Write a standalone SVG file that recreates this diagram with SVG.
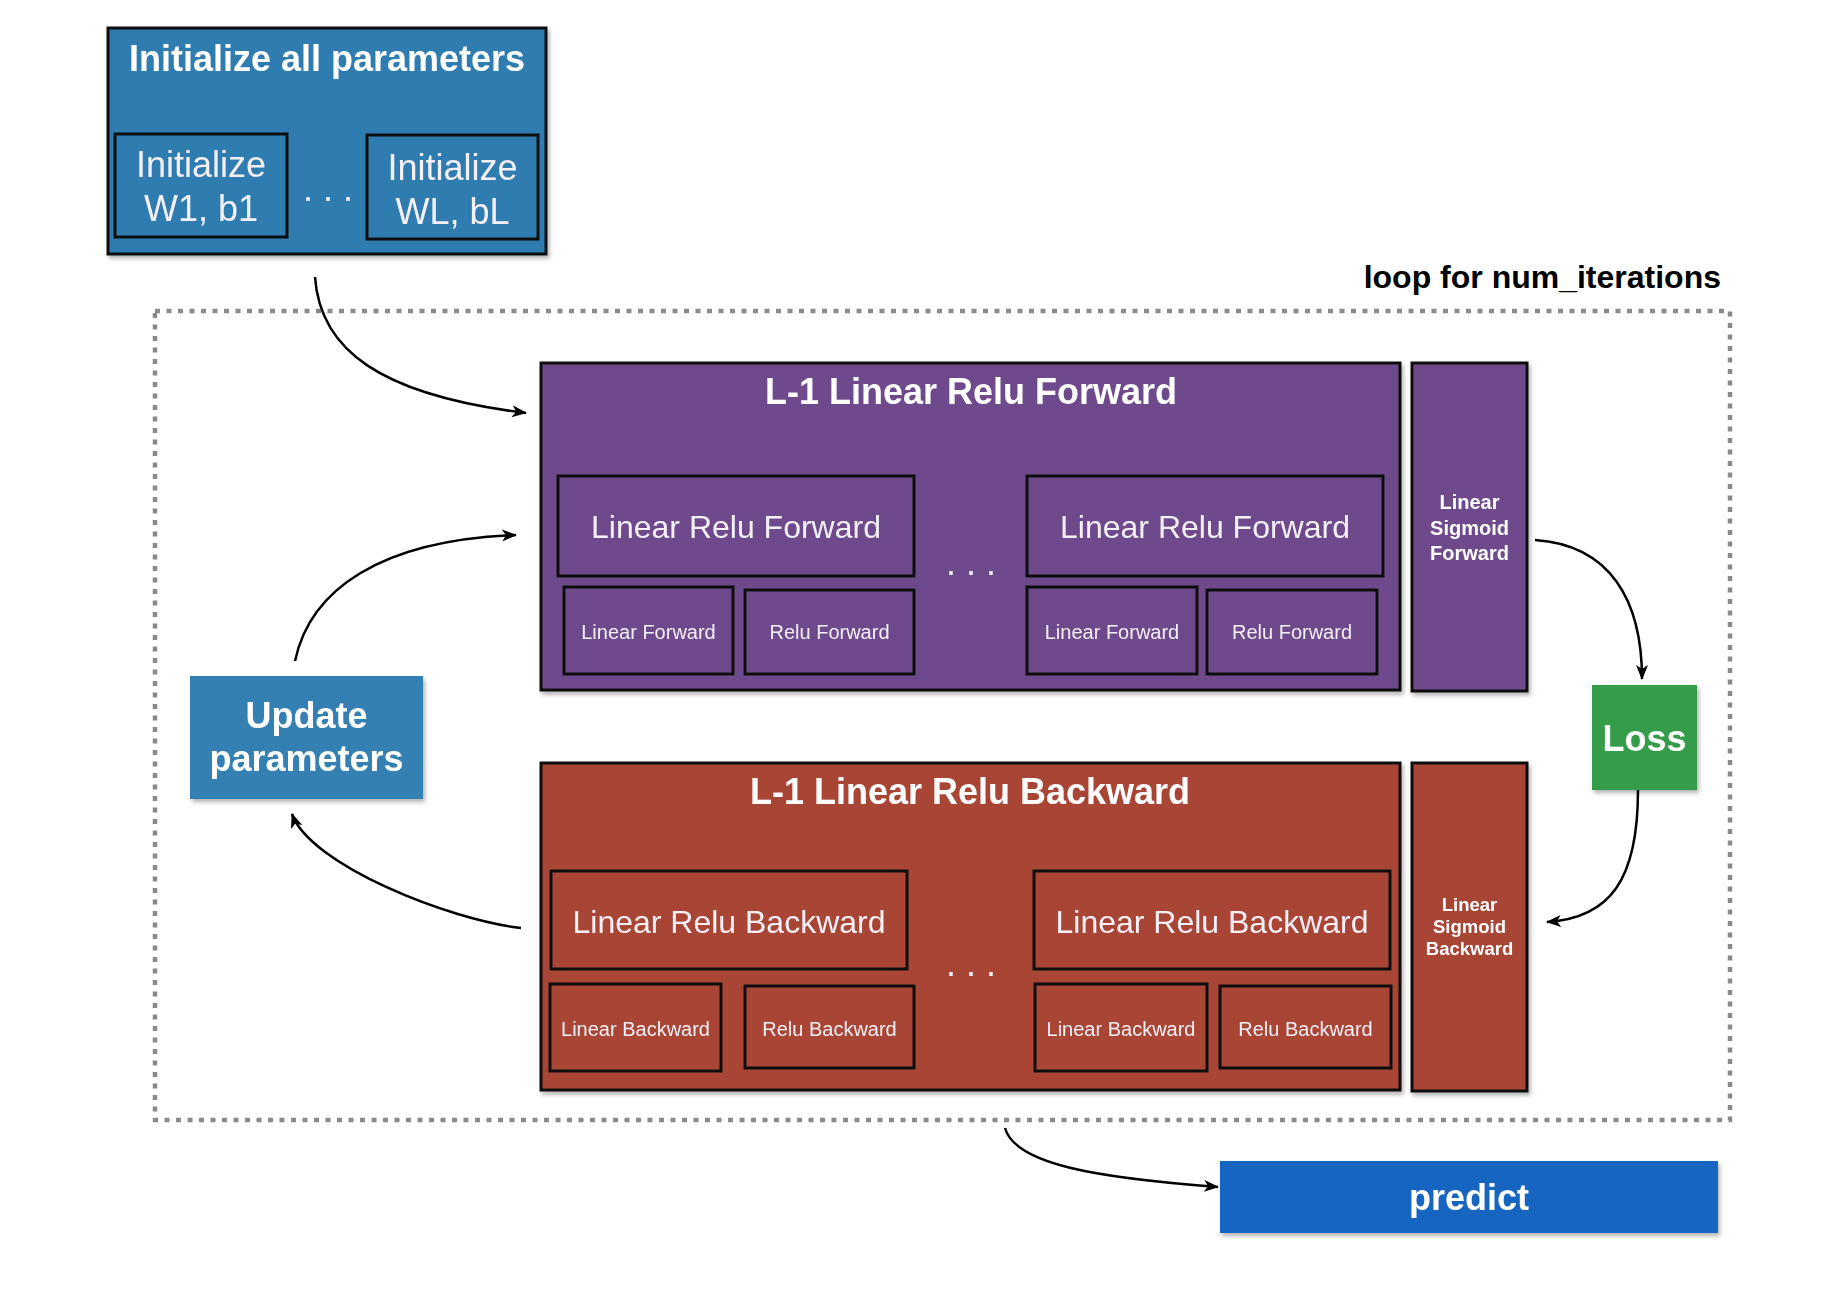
<svg xmlns="http://www.w3.org/2000/svg" width="1840" height="1298" viewBox="0 0 1840 1298">
<style>
.bx{stroke:#111;stroke-width:3}
.blue{fill:#2f7cb0}
.ublue{fill:#3480b2}
.purple{fill:#6e4a8c}
.red{fill:#a94436}
.green{fill:#369c48}
.pred{fill:#1565c0}
.t{font-family:"Liberation Sans",Arial,sans-serif;fill:#fff;text-anchor:middle}
.b{font-weight:bold}
.lt{fill:#f4f0f6}
.con{fill:none;stroke:#000;stroke-width:2.5}
</style>
<defs>
<filter id="sh" x="-5%" y="-5%" width="115%" height="115%">
<feDropShadow dx="2" dy="3" stdDeviation="2" flood-color="#000" flood-opacity="0.3"/>
</filter>
<marker id="ah" markerUnits="userSpaceOnUse" markerWidth="16" markerHeight="12" refX="14" refY="6" orient="auto">
<path d="M0,0 L15,6 L0,12 L4,6 z" fill="#000"/>
</marker>
</defs>
<rect width="1840" height="1298" fill="#fff"/>

<g id="loop">
<rect x="155" y="311" width="1575" height="809" fill="none" stroke="#8a8a8a" stroke-width="4.5" stroke-dasharray="5 6.5"/>
<text class="t b" x="1721" y="288" font-size="32" style="fill:#000;text-anchor:end">loop for num_iterations</text>
</g>

<g id="init" filter="url(#sh)">
<rect class="bx blue" x="108" y="28" width="438" height="226"/>
<text class="t b" x="327" y="71" font-size="36">Initialize all parameters</text>
<rect class="bx blue" x="115" y="134" width="172" height="103"/>
<text class="t lt" x="201" y="177" font-size="36">Initialize</text>
<text class="t lt" x="201" y="221" font-size="36">W1, b1</text>
<text class="t lt" x="328" y="201" font-size="36">. . .</text>
<rect class="bx blue" x="367" y="135" width="171" height="104"/>
<text class="t lt" x="452.5" y="180" font-size="36">Initialize</text>
<text class="t lt" x="452.5" y="224" font-size="36">WL, bL</text>
</g>

<g id="update" filter="url(#sh)">
<rect class="ublue" x="190" y="676" width="233" height="123"/>
<text class="t b" x="306.5" y="728" font-size="36">Update</text>
<text class="t b" x="306.5" y="771" font-size="36">parameters</text>
</g>

<g id="forward" filter="url(#sh)">
<rect class="bx purple" x="541" y="363" width="859" height="327"/>
<text class="t b" x="971" y="404" font-size="36">L-1 Linear Relu Forward</text>
<rect class="bx purple" x="558" y="476" width="356" height="100"/>
<text class="t lt" x="736" y="538" font-size="32">Linear Relu Forward</text>
<rect class="bx purple" x="564" y="587" width="169" height="87"/>
<text class="t lt" x="648.5" y="639" font-size="20">Linear Forward</text>
<rect class="bx purple" x="745" y="590" width="169" height="84"/>
<text class="t lt" x="829.5" y="639" font-size="20">Relu Forward</text>
<text class="t lt" x="971" y="575" font-size="36">. . .</text>
<rect class="bx purple" x="1027" y="476" width="356" height="100"/>
<text class="t lt" x="1205" y="538" font-size="32">Linear Relu Forward</text>
<rect class="bx purple" x="1027" y="587" width="170" height="87"/>
<text class="t lt" x="1112" y="639" font-size="20">Linear Forward</text>
<rect class="bx purple" x="1207" y="590" width="170" height="84"/>
<text class="t lt" x="1292" y="639" font-size="20">Relu Forward</text>
</g>

<g id="sigfwd" filter="url(#sh)">
<rect class="bx purple" x="1412" y="363" width="115" height="328"/>
<text class="t b" x="1469.5" y="509" font-size="20">Linear</text>
<text class="t b" x="1469.5" y="535" font-size="20">Sigmoid</text>
<text class="t b" x="1469.5" y="560" font-size="20">Forward</text>
</g>

<g id="loss" filter="url(#sh)">
<rect class="green" x="1592" y="685" width="105" height="105"/>
<text class="t b" x="1644.5" y="751" font-size="36">Loss</text>
</g>

<g id="backward" filter="url(#sh)">
<rect class="bx red" x="541" y="763" width="859" height="327"/>
<text class="t b" x="970" y="804" font-size="36">L-1 Linear Relu Backward</text>
<rect class="bx red" x="551" y="871" width="356" height="98"/>
<text class="t lt" x="729" y="933" font-size="32">Linear Relu Backward</text>
<rect class="bx red" x="550" y="984" width="171" height="87"/>
<text class="t lt" x="635.5" y="1036" font-size="20">Linear Backward</text>
<rect class="bx red" x="745" y="986" width="169" height="82"/>
<text class="t lt" x="829.5" y="1036" font-size="20">Relu Backward</text>
<text class="t lt" x="971" y="976" font-size="36">. . .</text>
<rect class="bx red" x="1034" y="871" width="356" height="98"/>
<text class="t lt" x="1212" y="933" font-size="32">Linear Relu Backward</text>
<rect class="bx red" x="1035" y="984" width="172" height="87"/>
<text class="t lt" x="1121" y="1036" font-size="20">Linear Backward</text>
<rect class="bx red" x="1220" y="986" width="171" height="82"/>
<text class="t lt" x="1305.5" y="1036" font-size="20">Relu Backward</text>
</g>

<g id="sigbwd" filter="url(#sh)">
<rect class="bx red" x="1412" y="763" width="115" height="328"/>
<text class="t b" x="1469.5" y="911" font-size="18.5">Linear</text>
<text class="t b" x="1469.5" y="932.5" font-size="18.5">Sigmoid</text>
<text class="t b" x="1469.5" y="954.5" font-size="18.5">Backward</text>
</g>

<g id="predict" filter="url(#sh)">
<rect class="pred" x="1220" y="1161" width="498" height="72"/>
<text class="t b" x="1469" y="1210" font-size="36">predict</text>
</g>

<g id="connectors">
<path class="con" d="M315,277 C320,350 380,395 526,413" marker-end="url(#ah)"/>
<path class="con" d="M295,661 C310,590 380,540 516,535" marker-end="url(#ah)"/>
<path class="con" d="M521,928 C450,920 310,865 292,814" marker-end="url(#ah)"/>
<path class="con" d="M1535,540 C1610,545 1642,600 1642,679" marker-end="url(#ah)"/>
<path class="con" d="M1638,790 C1638,880 1610,918 1547,922" marker-end="url(#ah)"/>
<path class="con" d="M1005,1128 C1015,1165 1100,1178 1218,1187" marker-end="url(#ah)"/>
</g>
</svg>
